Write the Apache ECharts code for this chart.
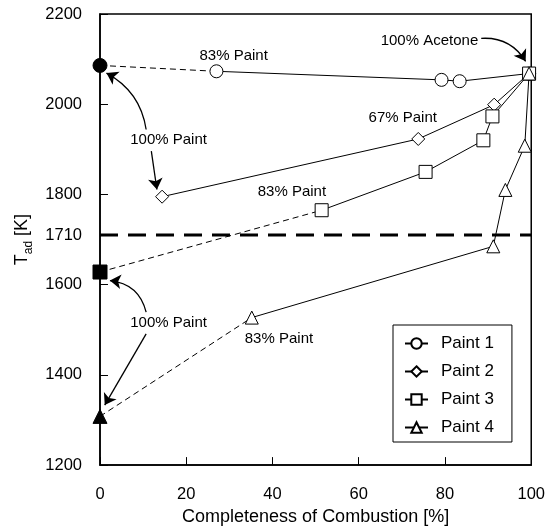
<!DOCTYPE html>
<html>
<head>
<meta charset="utf-8">
<title>Tad vs completeness of combustion</title>
<script src="https://cdn.jsdelivr.net/npm/echarts@6/dist/echarts.min.js"></script>
<style>
	html, body { margin: 0; padding: 0; background: #fff; }
	#tad-chart { width: 548px; height: 531px; }
</style>
</head>
<body>
<div id="tad-chart"></div>
<script>
// completeness of combustion [%] / adiabatic flame temperature [K]
var paint1X = [27, 79.2, 83.4, 99.5];
var paint1Y = [2073, 2054, 2051, 2068];
var paint2X = [14.4, 73.8, 91.4, 99.5];
var paint2Y = [1795, 1923, 1999, 2068];
var paint3X = [51.4, 75.5, 88.9, 91.0, 99.5];
var paint3Y = [1765, 1850, 1920, 1973, 2068];
var paint4X = [35.2, 91.2, 94.0, 98.5, 99.5];
var paint4Y = [1527, 1685, 1810, 1908, 2068];

// 100% paint points (filled marks) for paint 1, 3, 4
var fullPaintX = [0, 0, 0];
var fullPaintY = [2086, 1628, 1308];

// horizontal reference level
var limitX = [0, 100];
var limitY = [1710, 1710];

var yTicks = [1200, 1400, 1600, 1710, 1800, 2000, 2200];
var legendNames = ["Paint 1", "Paint 2", "Paint 3", "Paint 4"];

var FONT = "Liberation Sans, Arial, sans-serif";

var tadChart = {
	pairs : function(xs, ys) {
		var out = [];
		for (var i = 0; i < xs.length; i++) {
			out.push([xs[i], ys[i]]);
		}
		return out;
	},

	// open marks, solid line
	makeSeries : function(name, symbol, xs, ys) {
		return {
			name : name,
			type : "line",
			data : tadChart.pairs(xs, ys),
			symbol : symbol,
			symbolSize : 13,
			lineStyle : { color : "#000", width : 1 },
			itemStyle : { color : "#fff", borderColor : "#000", borderWidth : 1 },
			z : 3
		};
	},

	// filled 100% paint mark, dashed to the first open mark
	makeDash : function(symbol, i, xs, ys) {
		return {
			type : "line",
			data : [
				{ value : [fullPaintX[i], fullPaintY[i]], symbol : symbol, symbolSize : 14 },
				{ value : [xs[0], ys[0]], symbol : "none" }
			],
			lineStyle : { color : "#000", width : 1, type : [6, 4] },
			itemStyle : { color : "#000", borderColor : "#000" },
			z : 2,
			silent : true
		};
	},

	// label -> point arrows (positions in axis units)
	arrow : function(from, to, curve) {
		return { coords : [from, to], lineStyle : { curveness : curve } };
	},

	note : function(text, at) {
		return { name : text, coord : at };
	},

	init : function() {
		var myChart = echarts.init(document.getElementById("tad-chart"));
		var limit = {
			type : "line",
			data : tadChart.pairs(limitX, limitY),
			symbol : "none",
			lineStyle : { color : "#000", width : 3, type : [18, 10] },
			z : 1,
			silent : true,
			markPoint : {
				silent : true,
				symbol : "circle",
				symbolSize : 1,
				itemStyle : { color : "rgba(0,0,0,0)" },
				label : {
					show : true,
					position : "inside",
					formatter : "{b}",
					color : "#000",
					fontFamily : FONT,
					fontSize : 15
				},
				data : [
					tadChart.note("83% Paint", [31.0, 2107]),
					tadChart.note("100% Paint", [15.9, 1920]),
					tadChart.note("100% Acetone", [76.4, 2141]),
					tadChart.note("67% Paint", [70.2, 1969]),
					tadChart.note("83% Paint", [44.5, 1805]),
					tadChart.note("100% Paint", [15.9, 1515]),
					tadChart.note("83% Paint", [41.5, 1480])
				]
			}
		};
		var arrows = {
			type : "lines",
			coordinateSystem : "cartesian2d",
			silent : true,
			symbol : ["none", "arrow"],
			symbolSize : 11,
			lineStyle : { color : "#000", width : 1.3, opacity : 1 },
			z : 4,
			data : [
				tadChart.arrow([10.7, 1944], [1.5, 2069], -0.25),
				tadChart.arrow([11.9, 1896], [13.2, 1811], 0),
				tadChart.arrow([10.7, 1539], [2.3, 1609], -0.35),
				tadChart.arrow([10.7, 1491], [1.1, 1333], 0),
				tadChart.arrow([88.4, 2146], [98.7, 2095], 0.3)
			]
		};

		var option = {
			animation : false,
			backgroundColor : "#fff",
			textStyle : { fontFamily : FONT, color : "#000" },
			grid : {
				left : 100, right : 12, top : 14, bottom : 64,
				show : true, borderColor : "#000", borderWidth : 1.5
			},
			legend : {
				data : legendNames,
				orient : "vertical",
				left : 393,
				top : 325,
				padding : [10, 18, 6, 11],
				itemWidth : 23,
				itemHeight : 13,
				itemGap : 11,
				backgroundColor : "#fff",
				borderColor : "#000",
				borderWidth : 1,
				textStyle : { fontFamily : FONT, fontSize : 17, color : "#000", padding : [0, 0, 0, 8] }
			},
			xAxis : {
				type : "value",
				min : 0, max : 100, interval : 20,
				name : "Completeness of Combustion [%]",
				nameLocation : "middle",
				nameGap : 32,
				nameTextStyle : { fontFamily : FONT, fontSize : 18, color : "#000" },
				axisLine : { lineStyle : { color : "#000", width : 1.5 } },
				axisTick : { inside : true, length : 8, lineStyle : { color : "#000", width : 1 } },
				axisLabel : { margin : 21, fontFamily : FONT, fontSize : 16.5, color : "#000" },
				splitLine : { show : false }
			},
			yAxis : {
				type : "value",
				min : 1200, max : 2200,
				name : "T{sub|ad} [K]",
				nameLocation : "middle",
				nameRotate : 90,
				nameGap : 54,
				nameTextStyle : {
					fontFamily : FONT, fontSize : 18, color : "#000", lineHeight : 24,
					rich : { sub : { fontFamily : FONT, fontSize : 12, color : "#000", verticalAlign : "bottom", lineHeight : 24 } }
				},
				axisLine : { onZero : false, lineStyle : { color : "#000", width : 1.5 } },
				axisTick : { inside : true, length : 8, customValues : yTicks, lineStyle : { color : "#000", width : 1 } },
				axisLabel : {
					margin : 18, customValues : yTicks, fontFamily : FONT, fontSize : 16.5, color : "#000",
					formatter : function(v) { return String(v); }
				},
				splitLine : { show : false }
			},
			series : [
				limit,
				tadChart.makeDash("circle", 0, paint1X, paint1Y),
				tadChart.makeDash("rect", 1, paint3X, paint3Y),
				tadChart.makeDash("triangle", 2, paint4X, paint4Y),
				tadChart.makeSeries("Paint 1", "circle", paint1X, paint1Y),
				tadChart.makeSeries("Paint 2", "diamond", paint2X, paint2Y),
				tadChart.makeSeries("Paint 3", "rect", paint3X, paint3Y),
				tadChart.makeSeries("Paint 4", "triangle", paint4X, paint4Y),
				arrows
			]
		};
		myChart.setOption(option);
	}
};

tadChart.init();
</script>
</body>
</html>
